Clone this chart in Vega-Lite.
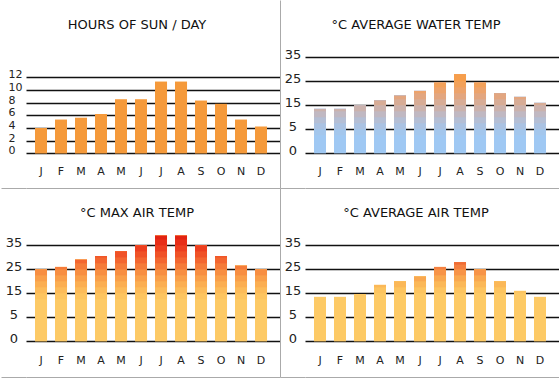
{
"$schema": "https://vega.github.io/schema/vega-lite/v6.json",
"padding": 0,
"background": "white",
"config": {"view": {"stroke": null}, "axis": {"labelFont": "DejaVu Sans", "labelColor": "#222"}, "title": {"font": "DejaVu Sans"}},
"data": {"values": [
{"month":"Jan","sun":4.0,"water":13.5,"maxair":25,"avgair":13.5},
{"month":"Feb","sun":5.3,"water":13.5,"maxair":26,"avgair":13.5},
{"month":"Mar","sun":5.6,"water":15,"maxair":29,"avgair":14.7},
{"month":"Apr","sun":6.2,"water":17,"maxair":30.5,"avgair":18.5},
{"month":"May","sun":8.5,"water":19,"maxair":32.5,"avgair":20},
{"month":"Jun","sun":8.5,"water":21,"maxair":35,"avgair":22},
{"month":"Jul","sun":11.3,"water":24.5,"maxair":39,"avgair":26},
{"month":"Aug","sun":11.3,"water":28,"maxair":39,"avgair":28},
{"month":"Sep","sun":8.3,"water":24.5,"maxair":35,"avgair":25},
{"month":"Oct","sun":7.8,"water":20,"maxair":30.5,"avgair":20},
{"month":"Nov","sun":5.3,"water":18.5,"maxair":26.5,"avgair":16},
{"month":"Dec","sun":4.2,"water":16,"maxair":25,"avgair":13.5}
]},
"columns": 2,
"spacing": {"row": 0, "column": 25},
"bounds": "flush",
"align": "each",
"concat": [
{
 "width": 254, "height": 188,
 "title": {"text": "HOURS OF SUN / DAY", "anchor": "middle", "frame": "group", "offset": -41.5, "baseline": "alphabetic", "dx": -16, "fontSize": 13, "fontWeight": "normal", "color": "#111"},
 "encoding": {"x": {"field": "month", "type": "nominal", "scale": {"domain": ["Jan","Feb","Mar","Apr","May","Jun","Jul","Aug","Sep","Oct","Nov","Dec"], "paddingInner": 0.4, "paddingOuter": 0.55, "align": 0.41}, "axis": {"title": null, "labelAngle": 0, "labelExpr": "substring(datum.label,0,1)", "ticks": false, "domain": true, "domainColor": "#aaa", "domainWidth": 1, "labelPadding": -14, "labelBaseline": "alphabetic", "labelFontSize": 11, "grid": false}}},
 "layer": [
  {"mark": {"type": "bar", "color": "#f59a3b"}, "encoding": {"y": {"field": "sun", "type": "quantitative", "scale": {"domain": [-5.48, 24.21], "nice": false, "zero": false}, "axis": {"title": null, "values": [-5.48, 0, 2, 4, 6, 8, 10, 12], "domain": false, "grid": true, "gridColor": {"condition": {"test": "datum.value < -1", "value": "transparent"}, "value": "#111"}, "gridWidth": 1.5, "ticks": true, "tickSize": 25, "tickWidth": 1, "tickColor": {"condition": {"test": "datum.value < -1", "value": "#aaa"}, "value": "transparent"}, "labelExpr": "datum.value < -1 ? '' : datum.label", "labelAlign": "left", "labelPadding": -7, "labelBaseline": "alphabetic", "labelOffset": 0.5, "labelFontSize": 11, "labelOverlap": false}}, "y2": {"datum": 0}}},
  {"mark": {"type": "bar", "color": "#f59a3b"}, "encoding": {"y": {"field": "sun", "type": "quantitative", "scale": {"domain": [-5.48, 24.21], "nice": false, "zero": false}, "axis": {"orient": "right", "title": null, "labels": false, "ticks": false, "grid": false, "domain": true, "domainColor": "#aaa", "domainWidth": 1}}, "y2": {"datum": 0}}}
 ],
 "resolve": {"axis": {"y": "independent"}}
},
{
 "width": 254, "height": 188,
 "title": {"text": "°C AVERAGE WATER TEMP", "anchor": "middle", "frame": "group", "offset": -41.5, "baseline": "alphabetic", "dx": -16, "fontSize": 13, "fontWeight": "normal", "color": "#111"},
 "encoding": {"x": {"field": "month", "type": "nominal", "scale": {"domain": ["Jan","Feb","Mar","Apr","May","Jun","Jul","Aug","Sep","Oct","Nov","Dec"], "paddingInner": 0.4, "paddingOuter": 0.55, "align": 0.41}, "axis": {"title": null, "labelAngle": 0, "labelExpr": "substring(datum.label,0,1)", "ticks": false, "domain": true, "domainColor": "#aaa", "domainWidth": 1, "labelPadding": -14, "labelBaseline": "alphabetic", "labelFontSize": 11, "grid": false}}},
 "layer": [
  {"mark": {"type": "bar", "color": "#9fc8f3"}, "encoding": {"y": {"field": "water", "type": "quantitative", "scale": {"domain": [-19.52, 58.97], "nice": false, "zero": false}, "axis": {"title": null, "values": [-19.52, -5, 5, 15, 25, 35], "domain": false, "grid": true, "gridColor": {"condition": {"test": "datum.value < -10", "value": "transparent"}, "value": "#111"}, "gridWidth": 1.5, "ticks": true, "tickSize": 25, "tickWidth": 1, "tickColor": {"condition": {"test": "datum.value < -10", "value": "#aaa"}, "value": "transparent"}, "labelExpr": "datum.value < -10 ? '' : datum.value < 0 ? '0' : datum.label", "labelAlign": "center", "labelPadding": -12.5, "labelBaseline": "alphabetic", "labelOffset": 1.5, "labelFontSize": 13, "labelOverlap": false}}, "y2": {"datum": -5}}},
  {"mark": {"type": "bar", "color": "#9fc8f3"}, "encoding": {"y": {"field": "water", "type": "quantitative", "scale": {"domain": [-19.52, 58.97], "nice": false, "zero": false}, "axis": {"orient": "right", "title": null, "labels": false, "ticks": false, "grid": false, "domain": true, "domainColor": "#aaa", "domainWidth": 1}}, "y2": {"datum": -5}}},
  {"transform": [{"filter": "datum.water > 2.5"}], "mark": {"type": "bar", "color": "#a3c6ec"}, "encoding": {"y": {"field": "water", "type": "quantitative", "axis": null}, "y2": {"datum": 2.5}}},
  {"transform": [{"filter": "datum.water > 5"}], "mark": {"type": "bar", "color": "#aac2e2"}, "encoding": {"y": {"field": "water", "type": "quantitative", "axis": null}, "y2": {"datum": 5}}},
  {"transform": [{"filter": "datum.water > 7.5"}], "mark": {"type": "bar", "color": "#b4bed4"}, "encoding": {"y": {"field": "water", "type": "quantitative", "axis": null}, "y2": {"datum": 7.5}}},
  {"transform": [{"filter": "datum.water > 10"}], "mark": {"type": "bar", "color": "#c0b8c2"}, "encoding": {"y": {"field": "water", "type": "quantitative", "axis": null}, "y2": {"datum": 10}}},
  {"transform": [{"filter": "datum.water > 12.5"}], "mark": {"type": "bar", "color": "#cbb2ad"}, "encoding": {"y": {"field": "water", "type": "quantitative", "axis": null}, "y2": {"datum": 12.5}}},
  {"transform": [{"filter": "datum.water > 15"}], "mark": {"type": "bar", "color": "#d7ac96"}, "encoding": {"y": {"field": "water", "type": "quantitative", "axis": null}, "y2": {"datum": 15}}},
  {"transform": [{"filter": "datum.water > 17.5"}], "mark": {"type": "bar", "color": "#e2a680"}, "encoding": {"y": {"field": "water", "type": "quantitative", "axis": null}, "y2": {"datum": 17.5}}},
  {"transform": [{"filter": "datum.water > 20"}], "mark": {"type": "bar", "color": "#eca36c"}, "encoding": {"y": {"field": "water", "type": "quantitative", "axis": null}, "y2": {"datum": 20}}},
  {"transform": [{"filter": "datum.water > 22.5"}], "mark": {"type": "bar", "color": "#f2a15a"}, "encoding": {"y": {"field": "water", "type": "quantitative", "axis": null}, "y2": {"datum": 22.5}}},
  {"transform": [{"filter": "datum.water > 25"}], "mark": {"type": "bar", "color": "#f69e4c"}, "encoding": {"y": {"field": "water", "type": "quantitative", "axis": null}, "y2": {"datum": 25}}}
 ],
 "resolve": {"axis": {"y": "independent"}}
},
{
 "width": 254, "height": 189,
 "title": {"text": "°C MAX AIR TEMP", "anchor": "middle", "frame": "group", "offset": -41.5, "baseline": "alphabetic", "dx": -16, "fontSize": 13, "fontWeight": "normal", "color": "#111"},
 "encoding": {"x": {"field": "month", "type": "nominal", "scale": {"domain": ["Jan","Feb","Mar","Apr","May","Jun","Jul","Aug","Sep","Oct","Nov","Dec"], "paddingInner": 0.4, "paddingOuter": 0.55, "align": 0.41}, "axis": {"title": null, "labelAngle": 0, "labelExpr": "substring(datum.label,0,1)", "ticks": false, "domain": true, "domainColor": "#aaa", "domainWidth": 1, "labelPadding": -14, "labelBaseline": "alphabetic", "labelFontSize": 11, "grid": false}}},
 "layer": [
  {"mark": {"type": "bar", "color": "#fdca66"}, "encoding": {"y": {"field": "maxair", "type": "quantitative", "scale": {"domain": [-19.94, 58.97], "nice": false, "zero": false}, "axis": {"title": null, "values": [-19.94, -5, 5, 15, 25, 35], "domain": false, "grid": true, "gridColor": {"condition": {"test": "datum.value < -10", "value": "transparent"}, "value": "#111"}, "gridWidth": 1.5, "ticks": true, "tickSize": 25, "tickWidth": 1, "tickColor": {"condition": {"test": "datum.value < -10", "value": "#aaa"}, "value": "transparent"}, "labelExpr": "datum.value < -10 ? '' : datum.value < 0 ? '0' : datum.label", "labelAlign": "center", "labelPadding": -12.5, "labelBaseline": "alphabetic", "labelOffset": 1.5, "labelFontSize": 13, "labelOverlap": false}}, "y2": {"datum": -5}}},
  {"mark": {"type": "bar", "color": "#fdca66"}, "encoding": {"y": {"field": "maxair", "type": "quantitative", "scale": {"domain": [-19.94, 58.97], "nice": false, "zero": false}, "axis": {"orient": "right", "title": null, "labels": false, "ticks": false, "grid": false, "domain": true, "domainColor": "#aaa", "domainWidth": 1}}, "y2": {"datum": -5}}},
  {"transform": [{"filter": "datum.maxair > 12.5"}], "mark": {"type": "bar", "color": "#fdc460"}, "encoding": {"y": {"field": "maxair", "type": "quantitative", "axis": null}, "y2": {"datum": 12.5}}},
  {"transform": [{"filter": "datum.maxair > 15"}], "mark": {"type": "bar", "color": "#fcbb5a"}, "encoding": {"y": {"field": "maxair", "type": "quantitative", "axis": null}, "y2": {"datum": 15}}},
  {"transform": [{"filter": "datum.maxair > 17.5"}], "mark": {"type": "bar", "color": "#fbae52"}, "encoding": {"y": {"field": "maxair", "type": "quantitative", "axis": null}, "y2": {"datum": 17.5}}},
  {"transform": [{"filter": "datum.maxair > 20"}], "mark": {"type": "bar", "color": "#f99f4a"}, "encoding": {"y": {"field": "maxair", "type": "quantitative", "axis": null}, "y2": {"datum": 20}}},
  {"transform": [{"filter": "datum.maxair > 22.5"}], "mark": {"type": "bar", "color": "#f78e42"}, "encoding": {"y": {"field": "maxair", "type": "quantitative", "axis": null}, "y2": {"datum": 22.5}}},
  {"transform": [{"filter": "datum.maxair > 25"}], "mark": {"type": "bar", "color": "#f57b39"}, "encoding": {"y": {"field": "maxair", "type": "quantitative", "axis": null}, "y2": {"datum": 25}}},
  {"transform": [{"filter": "datum.maxair > 27.5"}], "mark": {"type": "bar", "color": "#f36630"}, "encoding": {"y": {"field": "maxair", "type": "quantitative", "axis": null}, "y2": {"datum": 27.5}}},
  {"transform": [{"filter": "datum.maxair > 30"}], "mark": {"type": "bar", "color": "#f05227"}, "encoding": {"y": {"field": "maxair", "type": "quantitative", "axis": null}, "y2": {"datum": 30}}},
  {"transform": [{"filter": "datum.maxair > 32.5"}], "mark": {"type": "bar", "color": "#ec3f1f"}, "encoding": {"y": {"field": "maxair", "type": "quantitative", "axis": null}, "y2": {"datum": 32.5}}},
  {"transform": [{"filter": "datum.maxair > 35"}], "mark": {"type": "bar", "color": "#e72e17"}, "encoding": {"y": {"field": "maxair", "type": "quantitative", "axis": null}, "y2": {"datum": 35}}},
  {"transform": [{"filter": "datum.maxair > 37.5"}], "mark": {"type": "bar", "color": "#e22212"}, "encoding": {"y": {"field": "maxair", "type": "quantitative", "axis": null}, "y2": {"datum": 37.5}}}
 ],
 "resolve": {"axis": {"y": "independent"}}
},
{
 "width": 254, "height": 189,
 "title": {"text": "°C AVERAGE AIR TEMP", "anchor": "middle", "frame": "group", "offset": -41.5, "baseline": "alphabetic", "dx": -16, "fontSize": 13, "fontWeight": "normal", "color": "#111"},
 "encoding": {"x": {"field": "month", "type": "nominal", "scale": {"domain": ["Jan","Feb","Mar","Apr","May","Jun","Jul","Aug","Sep","Oct","Nov","Dec"], "paddingInner": 0.4, "paddingOuter": 0.55, "align": 0.41}, "axis": {"title": null, "labelAngle": 0, "labelExpr": "substring(datum.label,0,1)", "ticks": false, "domain": true, "domainColor": "#aaa", "domainWidth": 1, "labelPadding": -14, "labelBaseline": "alphabetic", "labelFontSize": 11, "grid": false}}},
 "layer": [
  {"mark": {"type": "bar", "color": "#fdca66"}, "encoding": {"y": {"field": "avgair", "type": "quantitative", "scale": {"domain": [-19.94, 58.97], "nice": false, "zero": false}, "axis": {"title": null, "values": [-19.94, -5, 5, 15, 25, 35], "domain": false, "grid": true, "gridColor": {"condition": {"test": "datum.value < -10", "value": "transparent"}, "value": "#111"}, "gridWidth": 1.5, "ticks": true, "tickSize": 25, "tickWidth": 1, "tickColor": {"condition": {"test": "datum.value < -10", "value": "#aaa"}, "value": "transparent"}, "labelExpr": "datum.value < -10 ? '' : datum.value < 0 ? '0' : datum.label", "labelAlign": "center", "labelPadding": -12.5, "labelBaseline": "alphabetic", "labelOffset": 1.5, "labelFontSize": 13, "labelOverlap": false}}, "y2": {"datum": -5}}},
  {"mark": {"type": "bar", "color": "#fdca66"}, "encoding": {"y": {"field": "avgair", "type": "quantitative", "scale": {"domain": [-19.94, 58.97], "nice": false, "zero": false}, "axis": {"orient": "right", "title": null, "labels": false, "ticks": false, "grid": false, "domain": true, "domainColor": "#aaa", "domainWidth": 1}}, "y2": {"datum": -5}}},
  {"transform": [{"filter": "datum.avgair > 15"}], "mark": {"type": "bar", "color": "#fcc460"}, "encoding": {"y": {"field": "avgair", "type": "quantitative", "axis": null}, "y2": {"datum": 15}}},
  {"transform": [{"filter": "datum.avgair > 17.5"}], "mark": {"type": "bar", "color": "#fbb858"}, "encoding": {"y": {"field": "avgair", "type": "quantitative", "axis": null}, "y2": {"datum": 17.5}}},
  {"transform": [{"filter": "datum.avgair > 20"}], "mark": {"type": "bar", "color": "#f9a850"}, "encoding": {"y": {"field": "avgair", "type": "quantitative", "axis": null}, "y2": {"datum": 20}}},
  {"transform": [{"filter": "datum.avgair > 22.5"}], "mark": {"type": "bar", "color": "#f79448"}, "encoding": {"y": {"field": "avgair", "type": "quantitative", "axis": null}, "y2": {"datum": 22.5}}},
  {"transform": [{"filter": "datum.avgair > 25"}], "mark": {"type": "bar", "color": "#f48040"}, "encoding": {"y": {"field": "avgair", "type": "quantitative", "axis": null}, "y2": {"datum": 25}}},
  {"transform": [{"filter": "datum.avgair > 27"}], "mark": {"type": "bar", "color": "#f06c36"}, "encoding": {"y": {"field": "avgair", "type": "quantitative", "axis": null}, "y2": {"datum": 27}}}
 ],
 "resolve": {"axis": {"y": "independent"}}
}
]
}
